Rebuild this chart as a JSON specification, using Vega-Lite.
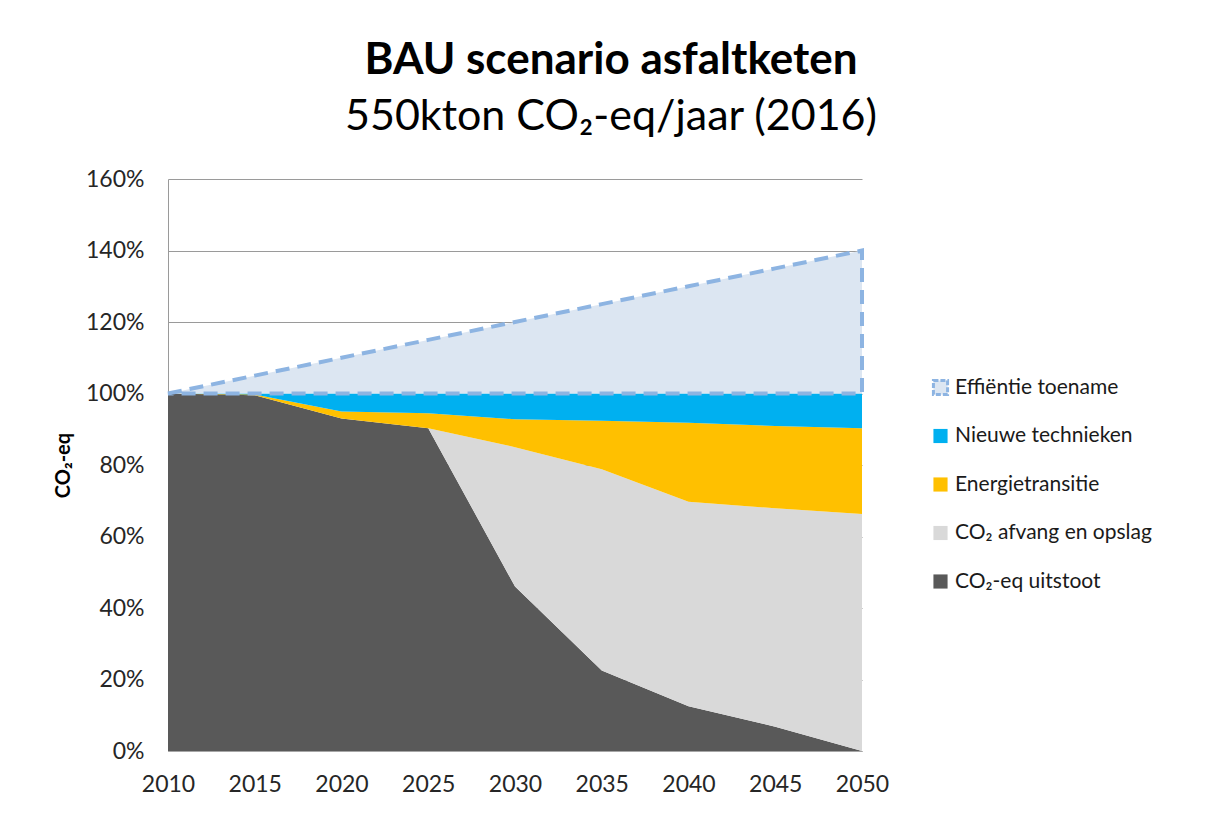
{
  "$schema": "https://vega.github.io/schema/vega-lite/v6.json",
  "width": 694,
  "height": 572,
  "autosize": "none",
  "padding": {"left": 168, "top": 179, "right": 346, "bottom": 63},
  "background": "white",
  "title": {
    "text": "BAU scenario asfaltketen",
    "subtitle": "550kton CO₂-eq/jaar (2016)",
    "anchor": "middle",
    "frame": "group",
    "dx": 96,
    "offset": 29,
    "font": "Lato",
    "fontSize": 44,
    "fontWeight": "bold",
    "color": "black",
    "subtitleFont": "Lato",
    "subtitleFontSize": 43,
    "subtitleFontWeight": "normal",
    "subtitleColor": "black",
    "subtitlePadding": 13
  },
  "config": {
    "view": {"stroke": null},
    "font": "Lato",
    "legend": {
      "title": null,
      "orient": "none",
      "legendX": 762,
      "legendY": 198,
      "padding": 0,
      "symbolType": "square",
      "symbolSize": 200,
      "symbolStrokeWidth": 3,
      "symbolDash": [5, 2],
      "labelFont": "Lato",
      "labelFontSize": 21,
      "labelLimit": 400,
      "labelColor": "#1a1a1a",
      "labelOffset": 4,
      "rowPadding": 21.5
    }
  },
  "data": {
    "values": [
      {"year": 2010, "series": "CO₂-eq uitstoot", "o": 1, "value": 100},
      {"year": 2015, "series": "CO₂-eq uitstoot", "o": 1, "value": 99.5},
      {"year": 2020, "series": "CO₂-eq uitstoot", "o": 1, "value": 93},
      {"year": 2025, "series": "CO₂-eq uitstoot", "o": 1, "value": 90.3},
      {"year": 2030, "series": "CO₂-eq uitstoot", "o": 1, "value": 46},
      {"year": 2035, "series": "CO₂-eq uitstoot", "o": 1, "value": 22.5},
      {"year": 2040, "series": "CO₂-eq uitstoot", "o": 1, "value": 12.5},
      {"year": 2045, "series": "CO₂-eq uitstoot", "o": 1, "value": 6.8},
      {"year": 2050, "series": "CO₂-eq uitstoot", "o": 1, "value": 0},
      {"year": 2010, "series": "CO₂ afvang en opslag", "o": 2, "value": 0},
      {"year": 2015, "series": "CO₂ afvang en opslag", "o": 2, "value": 0},
      {"year": 2020, "series": "CO₂ afvang en opslag", "o": 2, "value": 0},
      {"year": 2025, "series": "CO₂ afvang en opslag", "o": 2, "value": 0},
      {"year": 2030, "series": "CO₂ afvang en opslag", "o": 2, "value": 39},
      {"year": 2035, "series": "CO₂ afvang en opslag", "o": 2, "value": 56.3},
      {"year": 2040, "series": "CO₂ afvang en opslag", "o": 2, "value": 57.2},
      {"year": 2045, "series": "CO₂ afvang en opslag", "o": 2, "value": 61.1},
      {"year": 2050, "series": "CO₂ afvang en opslag", "o": 2, "value": 66.3},
      {"year": 2010, "series": "Energietransitie", "o": 3, "value": 0},
      {"year": 2015, "series": "Energietransitie", "o": 3, "value": 0.2},
      {"year": 2020, "series": "Energietransitie", "o": 3, "value": 2},
      {"year": 2025, "series": "Energietransitie", "o": 3, "value": 4.2},
      {"year": 2030, "series": "Energietransitie", "o": 3, "value": 7.8},
      {"year": 2035, "series": "Energietransitie", "o": 3, "value": 13.6},
      {"year": 2040, "series": "Energietransitie", "o": 3, "value": 22.1},
      {"year": 2045, "series": "Energietransitie", "o": 3, "value": 23},
      {"year": 2050, "series": "Energietransitie", "o": 3, "value": 24},
      {"year": 2010, "series": "Nieuwe technieken", "o": 4, "value": 0},
      {"year": 2015, "series": "Nieuwe technieken", "o": 4, "value": 0.3},
      {"year": 2020, "series": "Nieuwe technieken", "o": 4, "value": 5},
      {"year": 2025, "series": "Nieuwe technieken", "o": 4, "value": 5.5},
      {"year": 2030, "series": "Nieuwe technieken", "o": 4, "value": 7.2},
      {"year": 2035, "series": "Nieuwe technieken", "o": 4, "value": 7.6},
      {"year": 2040, "series": "Nieuwe technieken", "o": 4, "value": 8.2},
      {"year": 2045, "series": "Nieuwe technieken", "o": 4, "value": 9.1},
      {"year": 2050, "series": "Nieuwe technieken", "o": 4, "value": 9.7},
      {"year": 2010, "series": "Effiëntie  toename", "o": 5, "value": 0},
      {"year": 2015, "series": "Effiëntie  toename", "o": 5, "value": 5},
      {"year": 2020, "series": "Effiëntie  toename", "o": 5, "value": 10},
      {"year": 2025, "series": "Effiëntie  toename", "o": 5, "value": 15},
      {"year": 2030, "series": "Effiëntie  toename", "o": 5, "value": 20},
      {"year": 2035, "series": "Effiëntie  toename", "o": 5, "value": 25},
      {"year": 2040, "series": "Effiëntie  toename", "o": 5, "value": 30},
      {"year": 2045, "series": "Effiëntie  toename", "o": 5, "value": 35},
      {"year": 2050, "series": "Effiëntie  toename", "o": 5, "value": 40}
    ]
  },
  "layer": [
    {
      "mark": {"type": "area", "interpolate": "linear"},
      "encoding": {
        "x": {
          "field": "year",
          "type": "quantitative",
          "scale": {"domain": [2010, 2050], "nice": false, "zero": false},
          "axis": {
            "title": null,
            "values": [2010, 2015, 2020, 2025, 2030, 2035, 2040, 2045, 2050],
            "format": "d",
            "grid": false,
            "ticks": false,
            "domainColor": "#a6a6a6",
            "labelFont": "Lato",
            "labelFontSize": 23,
            "labelColor": "#262626",
            "labelPadding": 22,
            "labelFlush": false
          }
        },
        "y": {
          "field": "value",
          "type": "quantitative",
          "stack": "zero",
          "title": "CO₂-eq",
          "scale": {"domain": [0, 160], "nice": false},
          "axis": {
            "title": "CO₂-eq",
            "titleFont": "Lato",
            "titleFontSize": 20,
            "titleFontWeight": "bold",
            "titleColor": "black",
            "titlePadding": 12,
            "values": [0, 20, 40, 60, 80, 100, 120, 140, 160],
            "labelExpr": "datum.value + '%'",
            "grid": true,
            "gridColor": "#9a9a9a",
            "gridWidth": 1,
            "ticks": false,
            "domainColor": "#9a9a9a",
            "labelFont": "Lato",
            "labelFontSize": 23,
            "labelColor": "#262626",
            "labelPadding": 24
          }
        },
        "order": {"field": "o", "type": "quantitative", "sort": "ascending"},
        "color": {
          "field": "series",
          "type": "nominal",
          "title": null,
          "scale": {
            "domain": ["Effiëntie  toename", "Nieuwe technieken", "Energietransitie", "CO₂ afvang en opslag", "CO₂-eq uitstoot"],
            "range": ["#dce6f2", "#00b0f0", "#ffc000", "#d9d9d9", "#595959"]
          }
        }
      }
    },
    {
      "transform": [
        {"stack": "value", "groupby": ["year"], "sort": [{"field": "o", "order": "ascending"}], "as": ["v0", "v1"]},
        {"filter": "datum.o === 5"}
      ],
      "mark": {"type": "area", "interpolate": "linear", "fill": "transparent", "strokeWidth": 4, "strokeDash": [14, 8]},
      "encoding": {
        "x": {"field": "year", "type": "quantitative", "title": null},
        "y": {"field": "v1", "type": "quantitative", "title": "CO₂-eq"},
        "y2": {"field": "v0"},
        "stroke": {
          "field": "series",
          "type": "nominal",
          "title": null,
          "scale": {
            "domain": ["Effiëntie  toename", "Nieuwe technieken", "Energietransitie", "CO₂ afvang en opslag", "CO₂-eq uitstoot"],
            "range": ["#8db4e2", "transparent", "transparent", "transparent", "transparent"]
          }
        }
      }
    }
  ]
}
